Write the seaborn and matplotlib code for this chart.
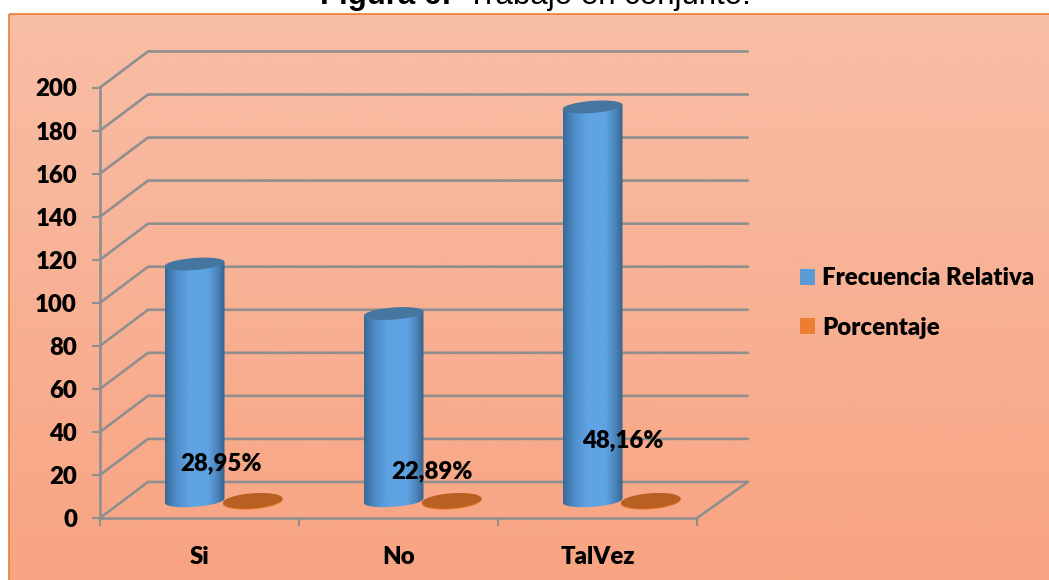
import numpy as np
import pandas as pd
import seaborn as sns
import matplotlib
matplotlib.use("Agg")
import matplotlib.pyplot as plt
from matplotlib.colors import LinearSegmentedColormap
from matplotlib.patches import Rectangle, PathPatch
from matplotlib.path import Path

categories = ["Si", "No", "TalVez"]
frecuencia = [110, 87, 183]
porcentaje = [0.2895, 0.2289, 0.4816]
pct_labels = ["28,95%", "22,89%", "48,16%"]
series_names = ["Frecuencia Relativa", "Porcentaje"]
yticks = list(range(0, 201, 20))

W, H = 1049, 580
sns.set_theme(style="white")
plt.rcParams["font.family"] = ["Lato", "DejaVu Sans"]
plt.rcParams["font.weight"] = "heavy"
HEAVY = "heavy"
FS = 17.3

fig = plt.figure(figsize=(W / 100, H / 100), dpi=100, facecolor="white")

# panel background
bg = fig.add_axes([0, 0, 1, 1], zorder=0)
bg.set_xlim(0, W); bg.set_ylim(H, 0); bg.axis("off")
cmap_bg = LinearSegmentedColormap.from_list("bg", ["#F8BEA6", "#F8A482"])
bg.imshow(np.linspace(0, 1, 256)[:, None], cmap=cmap_bg, aspect="auto",
          extent=(9, W, H, 14), zorder=0)
bg.set_xlim(0, W); bg.set_ylim(H, 0)
bg.add_patch(Rectangle((8.5, 13.5), W, H, fill=False, ec="#ED7D31", lw=1.2))
bg.text(320, 4, "Figura 6:", ha="left", va="baseline", fontsize=22.5,
        family="Liberation Sans", weight="bold", color="black", clip_on=False)
bg.text(467, 4, "Trabajo en conjunto.", ha="left", va="baseline", fontsize=22.5,
        family="Liberation Sans", weight="normal", color="black", clip_on=False)

ax = fig.add_axes([100 / W, (H - 518) / H, 597 / W, 430.5 / H], zorder=1)
ax.patch.set_alpha(0)

df = pd.DataFrame({
    "categoria": categories * 2,
    "valor": frecuencia + porcentaje,
    "serie": [series_names[0]] * 3 + [series_names[1]] * 3,
})
sns.barplot(data=df, x="categoria", y="valor", hue="serie", ax=ax, width=0.6,
            palette=["#5B9BD5", "#ED7D31"], saturation=1, errorbar=None, zorder=3,
            edgecolor="none", linewidth=0)
ax.set_xlim(-0.5, 2.5); ax.set_ylim(0, 200)
ax.set_xlabel(""); ax.set_ylabel("")

GRID = "#8F8F8F"
DX, DY = 48 / 199, 36 / 2.15       # wall depth in data units
for y in yticks:
    ax.plot([-0.5, -0.5 + DX, 2.5 + DX * 1.06], [y, y + DY, y + DY], color=GRID,
            lw=1.9, clip_on=False, zorder=1, solid_joinstyle="round")
ax.plot([2.5, 2.5 + DX * 1.06], [0, DY], color=GRID, lw=1.9, clip_on=False, zorder=1)

for s in ["top", "right"]:
    ax.spines[s].set_visible(False)
for s in ["left", "bottom"]:
    ax.spines[s].set_color(GRID); ax.spines[s].set_linewidth(1.9)
ax.set_yticks(yticks)
ax.set_xticks([-0.5, 0.5, 1.5, 2.5], minor=True)
ax.tick_params(axis="x", which="minor", length=6, width=1.5, color=GRID, bottom=True)
ax.tick_params(axis="x", which="major", length=0, pad=20, labelsize=FS)
ax.tick_params(axis="y", length=6, width=1.5, color=GRID, left=True, pad=10.5, labelsize=FS)
for tl in ax.get_xticklabels() + ax.get_yticklabels():
    tl.set_fontweight(HEAVY); tl.set_color("black")

# 3D treatment of the flat seaborn bars
OX, OY = DX / 2 + 0.005, 8.0
cyl = LinearSegmentedColormap.from_list(
    "cyl", [(0, "#386896"), (0.16, "#4C8AC4"), (0.40, "#5FA3E3"),
            (0.72, "#5FA3E3"), (0.88, "#4A84BA"), (1, "#37628C")])
t = np.linspace(0, 2 * np.pi, 120)
n = len(categories)
bars = list(ax.patches)[:2 * n]


def ell(cx, cy, a, b, s):
    return cx + a * np.cos(t), cy + b * np.sin(t) + s * np.cos(t)


for i, p in enumerate(bars):
    x0, w, v = p.get_x(), p.get_width(), p.get_height()
    p.set_visible(False)
    cx = x0 + w / 2 + OX
    a = w / 2
    b, s = 2.8, 1.0
    if i < n:
        base = OY
        top = base + v
        xs = np.linspace(-1, 1, 60)
        bx = cx + a * xs
        lo = base - b * np.sqrt(1 - xs ** 2) + s * xs
        hi = top + s * xs
        vx = np.r_[bx, bx[::-1], bx[0]]
        vy = np.r_[lo, hi[::-1], lo[0]]
        clip = PathPatch(Path(np.c_[vx, vy]), transform=ax.transData,
                         fc="none", ec="none")
        ax.add_patch(clip)
        im = ax.imshow(np.linspace(0, 1, 128)[None, :], cmap=cyl, aspect="auto",
                       extent=(cx - a, cx + a, base - 6, top + 6), zorder=3,
                       clip_on=True)
        im.set_clip_path(clip)
        ex, ey = ell(cx, top, a, b, s)
        ax.fill(ex, ey, color="#44769F", zorder=4, clip_on=False, lw=0)
    else:
        base = OY
        cx -= 0.008
        ex, ey = ell(cx, base - 0.5, a, b * 1.25, s)
        ax.fill(ex, ey, color="#ED7D31", zorder=3, clip_on=False, lw=0)
        ex, ey = ell(cx, base, a, b * 1.25, s)
        ax.fill(ex, ey, color="#B85F22", zorder=4, clip_on=False, lw=0)

ax.set_xlim(-0.5, 2.5); ax.set_ylim(0, 200)

label_offsets = [(0.108, 25.5), (0.168, 21.5), (0.128, 36)]
for i, lab in enumerate(pct_labels):
    ax.text(i + label_offsets[i][0], label_offsets[i][1], lab,
            ha="center", va="center", fontsize=FS, weight=HEAVY,
            color="black", zorder=6)

handles, labels = ax.get_legend_handles_labels()
leg = ax.legend(handles, labels, loc="center left", bbox_to_anchor=(800 / W, (H - 303) / H),
                bbox_transform=fig.transFigure, frameon=False, fontsize=FS,
                handlelength=0.64, handleheight=0.64, handletextpad=0.28,
                labelspacing=1.15, borderpad=0, borderaxespad=0, title=None)
for tx in leg.get_texts():
    tx.set_fontweight(HEAVY); tx.set_color("black")
for h in leg.legend_handles:
    h.set_edgecolor("none"); h.set_linewidth(0)

fig.savefig("out.png", dpi=100)
